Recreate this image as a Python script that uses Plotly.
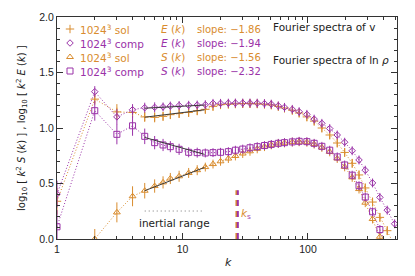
import math
import plotly.graph_objects as go

# ---------------- data ----------------
k = [1, 2, 3, 4, 5, 6, 7, 8, 9.4, 11.2, 13.1, 15.2, 17.5, 20.1, 23.2, 26.4, 30.2,
     34.5, 39.4, 45, 51, 58, 65, 75, 85, 98, 112, 129, 149, 171, 196, 225, 255,
     286, 327, 374, 428, 490]

E_sol = [0.34, 1.26, 1.145, 1.14, 1.10, 1.096, 1.105, 1.12, 1.13, 1.14, 1.155, 1.168,
         1.195, 1.21, 1.215, 1.218, 1.22, 1.22, 1.218, 1.215, 1.208, 1.195, 1.18, 1.16,
         1.135, 1.10, 1.062, 1.0, 0.937, 0.865, 0.78, 0.682, 0.577, 0.46, 0.333, 0.195,
         0.075, -0.06]

E_comp = [0.405, 1.327, 1.10, 1.165, 1.183, 1.186, 1.19, 1.198, 1.203, 1.205, 1.207, 1.21,
          1.222, 1.222, 1.224, 1.225, 1.225, 1.225, 1.224, 1.22, 1.215, 1.20, 1.186, 1.168,
          1.147, 1.123, 1.08, 1.042, 0.995, 0.937, 0.872, 0.795, 0.712, 0.62, 0.505, 0.375,
          0.26, 0.137]

S_sol = [-0.6, 0.0, 0.24, 0.385, 0.435, 0.477, 0.51, 0.545, 0.565, 0.595, 0.62, 0.648,
         0.675, 0.70, 0.725, 0.748, 0.77, 0.79, 0.812, 0.832, 0.848, 0.86, 0.866, 0.873,
         0.876, 0.872, 0.855, 0.825, 0.785, 0.725, 0.65, 0.555, 0.45, 0.327, 0.18, 0.02,
         -0.15, -0.35]

S_comp = [0.11, 1.156, 0.943, 1.02, 0.925, 0.868, 0.847, 0.832, 0.808, 0.781, 0.778, 0.775,
          0.778, 0.781, 0.787, 0.80, 0.81, 0.822, 0.832, 0.842, 0.852, 0.862, 0.868, 0.875,
          0.88, 0.877, 0.862, 0.835, 0.80, 0.74, 0.667, 0.575, 0.48, 0.378, 0.245, 0.085,
          -0.08, -0.25]

err_E = [0.12, 0.05, 0.07, 0.05, 0.045, 0.045, 0.04, 0.04, 0.04, 0.04, 0.04, 0.04,
         0.04, 0.04, 0.04, 0.04, 0.04, 0.04, 0.04, 0.04, 0.04, 0.04, 0.04, 0.04,
         0.04, 0.04, 0.04, 0.04, 0.04, 0.04, 0.04, 0.04, 0.04, 0.04, 0.04, 0.04,
         0.04, 0.04]

err_S = [0.15, 0.09, 0.09, 0.09, 0.07, 0.06, 0.055, 0.05, 0.05, 0.045, 0.045, 0.04,
         0.04, 0.04, 0.04, 0.04, 0.04, 0.04, 0.04, 0.04, 0.04, 0.04, 0.04, 0.04,
         0.04, 0.04, 0.04, 0.04, 0.04, 0.04, 0.04, 0.04, 0.04, 0.04, 0.04, 0.04,
         0.04, 0.04]

# power-law fits over the inertial range (slopes of E(k), S(k))
fit_k = [5, 15]
fit_slopes = [-1.86, -1.94, -1.56, -2.32]          # E sol, E comp, S sol, S comp
fit_y0 = [1.097, 1.178, 0.435, 0.915]              # log10 k^2 X(k) at k = 5
slope_labels = ["\u22121.86", "\u22121.94", "\u22121.56", "\u22122.32"]

ks_sol = 26.9
ks_comp = 27.6
inertial_level = 0.252

ORANGE = "#D98C2E"
PURPLE = "#9A32A8"
AX = "#333333"
FONT = "DejaVu Sans"
TFONT = "Liberation Sans"

# plot-area geometry (pixels) for placing text/legend in paper coords
L, R, T, B = 57, 397, 17, 239


def px(x):
    return (x - L) / (R - L)


def py(y):
    return (B - y) / (B - T)


fig = go.Figure()

series = [
    (E_sol, err_E, ORANGE, "cross-thin-open", 6),
    (E_comp, err_E, PURPLE, "diamond-open", 5),
    (S_sol, err_S, ORANGE, "triangle-up-open", 6),
    (S_comp, err_S, PURPLE, "square-open", 6),
]

for y, err, col, sym, size in series:
    fig.add_trace(go.Scatter(
        x=k, y=y, mode="lines+markers",
        line=dict(color=col, width=1, dash="1px,2px"),
        marker=dict(symbol=sym, size=size, color=col, line=dict(color=col, width=1)),
        error_y=dict(type="data", array=err, color=col, thickness=1, width=0),
        showlegend=False, hoverinfo="skip"))

# fit lines
for s, y0 in zip(fit_slopes, fit_y0):
    fy = [y0 + (s + 2) * math.log10(kk / fit_k[0]) for kk in fit_k]
    fig.add_trace(go.Scatter(x=fit_k, y=fy, mode="lines",
                             line=dict(color="#3a3a3a", width=1),
                             showlegend=False, hoverinfo="skip"))

# inertial range marker line
fig.add_trace(go.Scatter(x=fit_k, y=[inertial_level, inertial_level], mode="lines",
                         line=dict(color="#777777", width=1, dash="1px,3px"),
                         showlegend=False, hoverinfo="skip"))

# k_s dashed lines
for kk, col in [(ks_sol, ORANGE), (ks_comp, PURPLE)]:
    fig.add_trace(go.Scatter(x=[kk, kk], y=[0, 0.44], mode="lines",
                             line=dict(color=col, width=2, dash="6px,5px"),
                             showlegend=False, hoverinfo="skip"))

# legend markers on an overlay axis
leg_rows = [29, 43, 57, 71]
for (y, err, col, sym, size), row in zip(series, leg_rows):
    fig.add_trace(go.Scatter(x=[px(70)], y=[py(row)], xaxis="x2", yaxis="y2",
                             mode="markers",
                             marker=dict(symbol=sym, size=size, color=col,
                                         line=dict(color=col, width=1)),
                             showlegend=False, hoverinfo="skip"))

ann = []
leg_text = ["1024<sup>3</sup> sol", "1024<sup>3</sup> comp",
            "1024<sup>3</sup> sol", "1024<sup>3</sup> comp"]
leg_func = ["E", "E", "S", "S"]
leg_cols = [ORANGE, PURPLE, ORANGE, PURPLE]
for txt, fn, col, row, sl in zip(leg_text, leg_func, leg_cols, leg_rows, slope_labels):
    ann.append(dict(x=px(78), y=py(row), xref="paper", yref="paper", text=txt,
                    showarrow=False, xanchor="left", yanchor="middle",
                    font=dict(family=FONT, size=10.5, color=col)))
    ann.append(dict(x=px(159), y=py(row), xref="paper", yref="paper",
                    text=f"<i>{fn}</i> (<i>k</i>)",
                    showarrow=False, xanchor="left", yanchor="middle",
                    font=dict(family=FONT, size=10.5, color=col)))
    ann.append(dict(x=px(195), y=py(row), xref="paper", yref="paper",
                    text=f"slope: {sl}",
                    showarrow=False, xanchor="left", yanchor="middle",
                    font=dict(family=FONT, size=10, color=col)))

ann.append(dict(x=px(271), y=py(27), xref="paper", yref="paper",
                text="Fourier spectra of v", showarrow=False,
                xanchor="left", yanchor="middle",
                font=dict(family=FONT, size=10.5, color="#222222")))
ann.append(dict(x=px(271), y=py(60), xref="paper", yref="paper",
                text="Fourier spectra of ln <i>\u03c1</i>", showarrow=False,
                xanchor="left", yanchor="middle",
                font=dict(family=FONT, size=10.5, color="#222222")))

ann.append(dict(x=math.log10(8.7), y=0.145, xref="x", yref="y",
                text="inertial range", showarrow=False,
                xanchor="center", yanchor="middle",
                font=dict(family=FONT, size=10.5, color="#222222")))

ann.append(dict(x=math.log10(32), y=0.225, xref="x", yref="y",
                text=f"<span style='color:{ORANGE}'><i>k</i></span>"
                     f"<sub><span style='color:{PURPLE}'>s</span></sub>",
                showarrow=False, xanchor="center", yanchor="middle",
                font=dict(family=FONT, size=10.5, color=ORANGE)))

# axis titles
ann.append(dict(x=px(228), y=py(262), xref="paper", yref="paper",
                text="<i>k</i>", showarrow=False, xanchor="center", yanchor="middle",
                font=dict(family=FONT, size=11, color="#222222")))
ann.append(dict(x=px(22), y=0.5, xref="paper", yref="paper", textangle=-90,
                text="log<sub>10</sub> [ <i>k</i><sup>2</sup> <i>S</i> (<i>k</i>) ] ,"
                     " log<sub>10</sub> [ <i>k</i><sup>2</sup> <i>E</i> (<i>k</i>) ]",
                showarrow=False, xanchor="center", yanchor="middle",
                font=dict(family=FONT, size=10, color="#222222")))

x_minor = [2, 3, 4, 5, 6, 7, 8, 9, 20, 30, 40, 50, 60, 70, 80, 90, 200, 300, 400, 500]

fig.update_layout(
    width=415, height=276,
    margin=dict(l=L, r=415 - R, t=T, b=276 - B),
    paper_bgcolor="white", plot_bgcolor="white",
    annotations=ann,
    xaxis=dict(type="log", range=[0, math.log10(512)],
               tickvals=[1, 10, 100], ticktext=["1", "10", "100"],
               ticks="inside", ticklen=6, tickcolor=AX, tickwidth=1,
               showline=True, linecolor=AX, linewidth=1, mirror="ticks",
               showgrid=False, zeroline=False, automargin=False,
               minor=dict(tickvals=x_minor, ticks="inside", ticklen=3,
                          tickcolor=AX, showgrid=False),
               tickfont=dict(family=TFONT, size=10.5, color="#222222")),
    yaxis=dict(range=[0, 2], tickvals=[0, 0.5, 1, 1.5, 2],
               ticktext=["0.0", "0.5", "1.0", "1.5", "2.0"],
               ticks="inside", ticklen=6, tickcolor=AX, tickwidth=1,
               showline=True, linecolor=AX, linewidth=1, mirror="ticks",
               showgrid=False, zeroline=False, automargin=False,
               minor=dict(dtick=0.1, ticks="inside", ticklen=3,
                          tickcolor=AX, showgrid=False),
               tickfont=dict(family=TFONT, size=10.5, color="#222222")),
    xaxis2=dict(overlaying="x", range=[0, 1], visible=False, anchor="y2"),
    yaxis2=dict(overlaying="y", range=[0, 1], visible=False, anchor="x2"),
)

fig.write_html("out.html",
               config={"displayModeBar": False},
               post_script="document.body.style.margin='0';"
                           "document.body.style.overflow='hidden';")
